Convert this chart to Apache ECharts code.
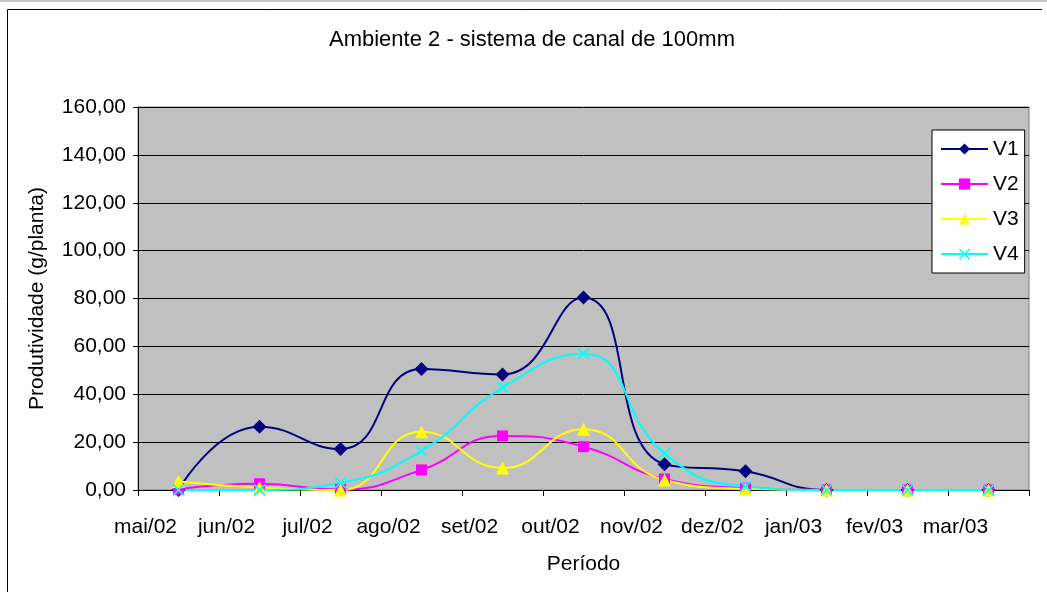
<!DOCTYPE html>
<html>
<head>
<meta charset="utf-8">
<script src="https://cdn.jsdelivr.net/npm/echarts@6/dist/echarts.min.js"></script>
<style>
  html, body { margin: 0; padding: 0; background: #fff; }
  #chart { width: 1047px; height: 592px; }
</style>
</head>
<body>
<div id="chart"></div>
<script>
var periodos = ["mai/02", "jun/02", "jul/02", "ago/02", "set/02", "out/02", "nov/02", "dez/02", "jan/03", "fev/03", "mar/03"];
var v1 = [0, 26.4, 17.1, 50.5, 48.3, 80.4, 10.8, 7.8, 0, 0, 0];
var v2 = [0.3, 2.6, 0.2, 8.4, 22.6, 18.1, 4.6, 0.8, 0, 0, 0];
var v3 = [3.6, 1.0, 0, 24.3, 9.2, 25.4, 4.2, 0.5, 0, 0, 0];
var v4 = [0, 0, 3.0, 16.4, 42.8, 56.9, 15.3, 1.5, 0, 0, 0];
var yTicks = { min: 0, max: 160, interval: 20 };

var FONT = "Liberation Sans";
var crossSymbol = "path://M0,1 L1,0 L5,4 L9,0 L10,1 L6,5 L10,9 L9,10 L5,6 L1,10 L0,9 L4,5 Z";

function serie(name, data, color, symbol, size) {
  return {
    name: name,
    type: "line",
    data: data,
    smooth: 0.5,
    symbol: symbol,
    symbolSize: size,
    showAllSymbol: true,
    lineStyle: { color: color, width: 2 },
    itemStyle: { color: color },
    animation: false
  };
}

var chart = echarts.init(document.getElementById("chart"));
chart.setOption({
  backgroundColor: "#fff",
  textStyle: { fontFamily: FONT },
  title: {
    text: "Ambiente 2 - sistema de canal de 100mm",
    left: 329,
    top: 29,
    padding: 0,
    textStyle: { fontFamily: FONT, fontSize: 22, fontWeight: "normal", color: "#000" }
  },
  graphic: [
    { type: "rect", shape: { x: 0, y: 0, width: 1047, height: 2 }, style: { fill: "#c8c8c8" }, silent: true },
    { type: "polyline", shape: { points: [[7.5, 600], [7.5, 9.5], [1042, 9.5]] }, style: { fill: null, stroke: "#000", lineWidth: 1 }, silent: true, z: -1 }
  ],
  legend: {
    orient: "vertical",
    left: 932,
    top: 130,
    padding: [7, 6, 7, 8],
    itemGap: 11,
    itemWidth: 47,
    itemHeight: 14,
    backgroundColor: "#fff",
    borderColor: "#000",
    borderWidth: 1,
    borderRadius: 0,
    textStyle: { fontFamily: FONT, fontSize: 21, color: "#000", lineHeight: 24 },
    data: ["V1", "V2", "V3", "V4"]
  },
  grid: {
    left: 138,
    right: 18,
    top: 107,
    bottom: 102,
    show: true,
    backgroundColor: "#C0C0C0",
    borderColor: "#808080",
    borderWidth: 1
  },
  xAxis: {
    type: "category",
    data: periodos,
    boundaryGap: true,
    name: "Período",
    nameLocation: "middle",
    nameGap: 64,
    nameTextStyle: { fontFamily: FONT, fontSize: 21, color: "#000" },
    axisLine: { lineStyle: { color: "#000", width: 1 } },
    axisTick: { show: true, length: 6, lineStyle: { color: "#000" } },
    axisLabel: {
      interval: 0,
      margin: 27,
      fontFamily: FONT,
      fontSize: 21,
      color: "#000",
      padding: [0, 66, 0, 0]
    },
    splitLine: { show: false }
  },
  yAxis: {
    type: "value",
    min: yTicks.min,
    max: yTicks.max,
    interval: yTicks.interval,
    name: "Produtividade (g/planta)",
    nameLocation: "middle",
    nameGap: 90,
    nameTextStyle: { fontFamily: FONT, fontSize: 21, color: "#000" },
    axisLine: { show: true, lineStyle: { color: "#000", width: 1 } },
    axisTick: { show: true, length: 5, lineStyle: { color: "#000" } },
    axisLabel: {
      margin: 12,
      fontFamily: FONT,
      fontSize: 21,
      color: "#000",
      formatter: function (v) { return v.toFixed(2).replace(".", ","); }
    },
    splitLine: { show: true, lineStyle: { color: "#000", width: 1 } }
  },
  series: [
    serie("V1", v1, "#000080", "diamond", 14),
    serie("V2", v2, "#FF00FF", "rect", 11),
    serie("V3", v3, "#FFFF00", "triangle", 13),
    serie("V4", v4, "#00FFFF", crossSymbol, 12)
  ]
});
</script>
</body>
</html>
